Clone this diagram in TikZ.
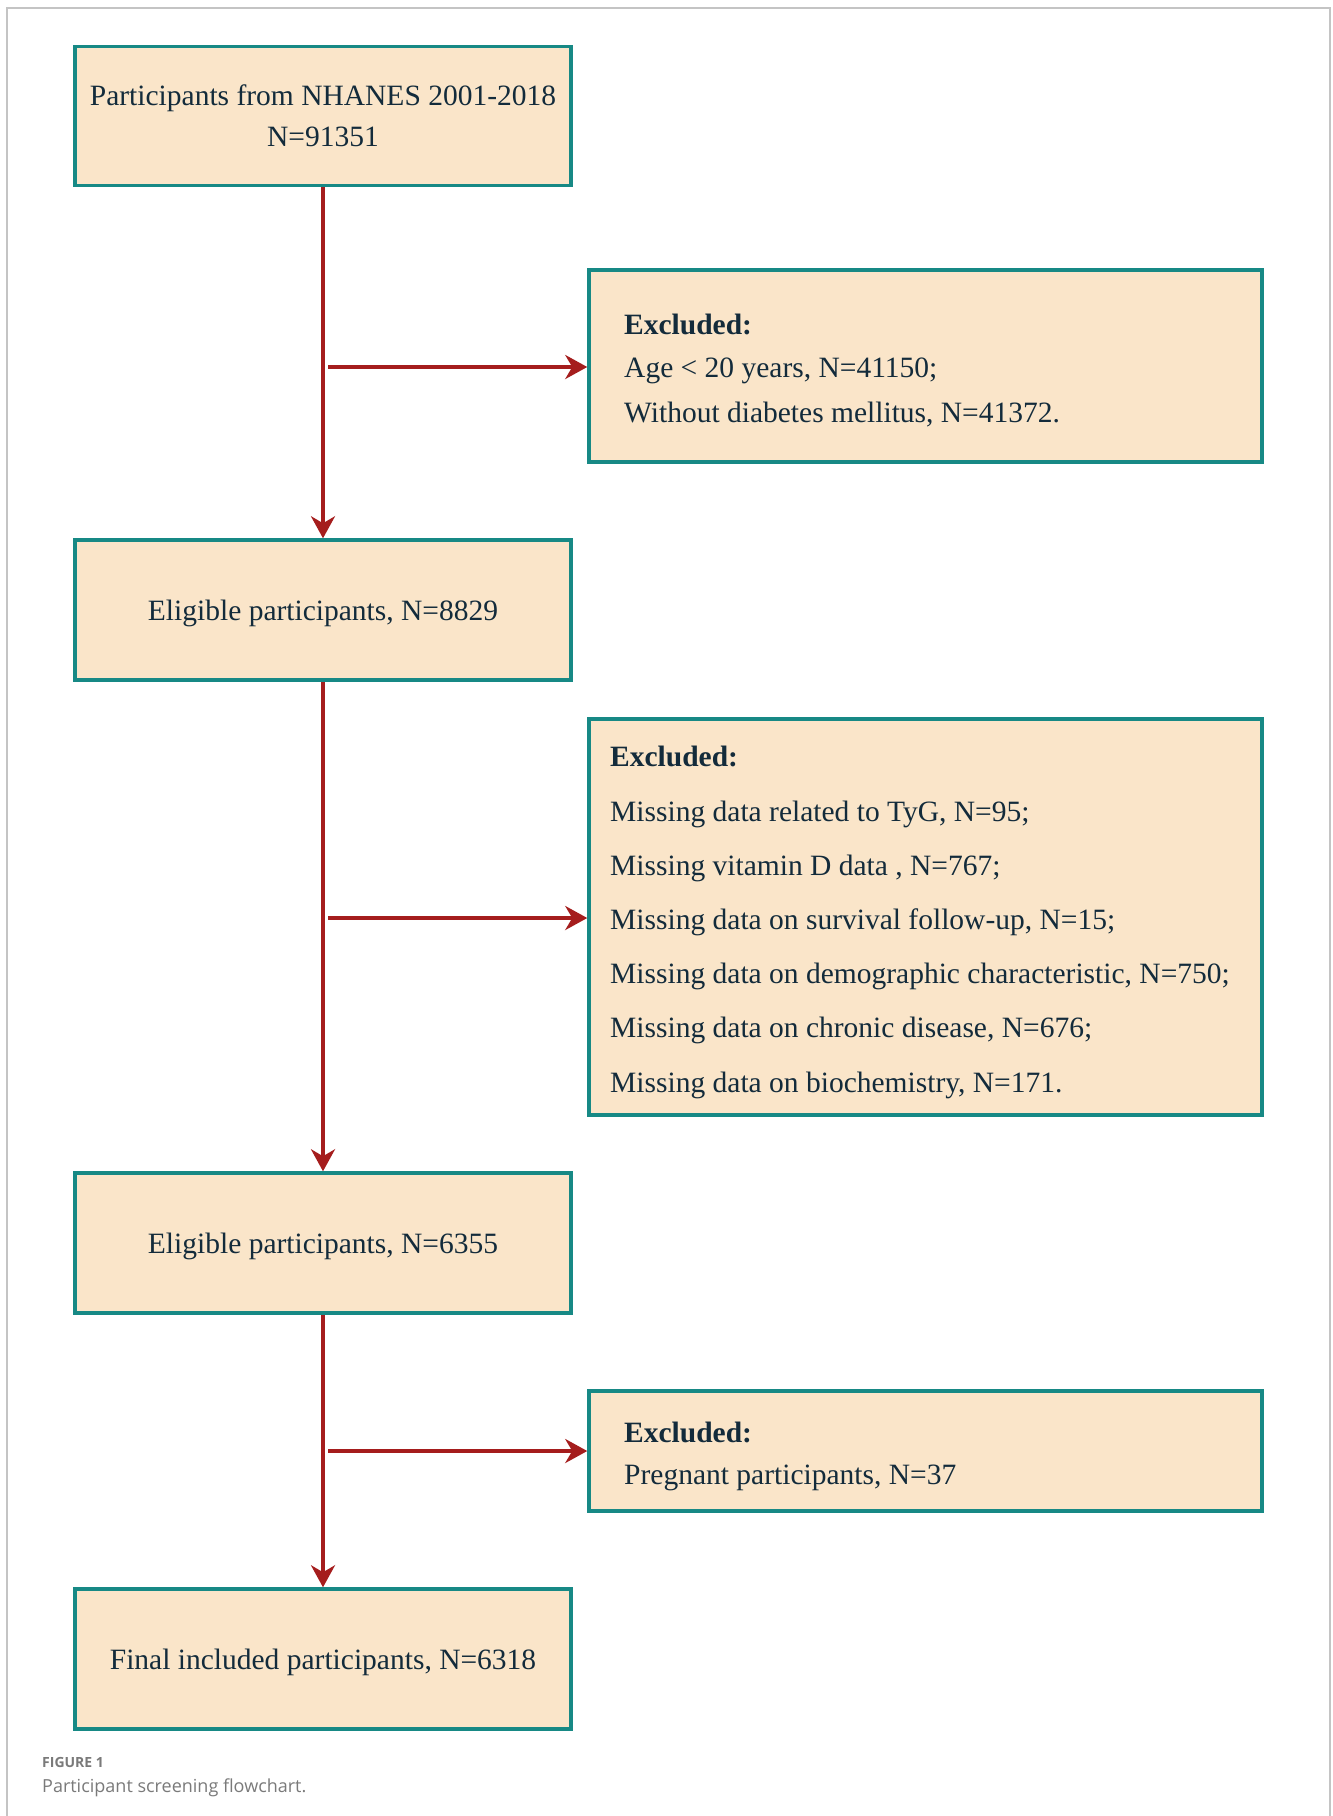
\documentclass[tikz,border=0pt]{standalone}
\usepackage{fontspec}
\setmainfont{Liberation Serif}
\newfontfamily\capfont{Open Sans}
\usetikzlibrary{arrows.meta}
\definecolor{boxfill}{HTML}{FAE5C9}
\definecolor{boxline}{HTML}{178985}
\definecolor{arrowred}{HTML}{A51D1D}
\definecolor{txt}{HTML}{132B3B}
\definecolor{framegray}{HTML}{C4C4C4}
\definecolor{capgray}{HTML}{7A7A7A}
\begin{document}
\begin{tikzpicture}[x=1pt,y=-1pt,
  box/.style={draw=boxline, line width=3.5pt, fill=boxfill, inner sep=0pt},
  mainbox/.style={box, minimum width=496pt, minimum height=139pt, font=\fontsize{29.5}{41}\selectfont, text=txt, align=center},
  onebox/.style={mainbox, minimum height=140pt, text height=20pt, text depth=0pt},
  exbox/.style={box, minimum width=673pt},
  ltxt/.style={font=\fontsize{29.5}{36}\selectfont, text=txt, anchor=base west, inner sep=0pt},
  arr/.style={draw=arrowred, line width=3.5pt, -{Stealth[length=22pt,width=24pt,inset=7pt]}},
]
\useasboundingbox (0,0) rectangle (1333,1816);
\fill[white] (0,0) rectangle (1333,1816);
\draw[framegray, line width=1.5pt] (7,1816) -- (7,8) -- (1330,8) -- (1330,1816);

% main boxes
\node[mainbox] (b1) at (323,116) {Participants from NHANES 2001-2018\\N=91351};
\node[onebox] (b2) at (323,610) {Eligible participants, N=8829};
\node[onebox] (b3) at (323,1243) {Eligible participants, N=6355};
\node[onebox] (b4) at (323,1659) {Final included participants, N=6318};

% exclusion boxes
\node[exbox, minimum height=192pt] (e1) at (925.5,366) {};
\node[exbox, minimum height=396pt] (e2) at (925.5,917) {};
\node[exbox, minimum height=120pt] (e3) at (925.5,1451) {};

% exclusion texts
\node[ltxt] (e1a) at (624,334) {\textbf{Excluded:}};
\node[ltxt] (e1b) at (624,377) {Age < 20 years, N=41150;};
\node[ltxt] (e1c) at (624,422) {Without diabetes mellitus, N=41372.};

\node[ltxt] (e2a) at (610,766) {\textbf{Excluded:}};
\node[ltxt] (e2b) at (610,821) {Missing data related to TyG, N=95;};
\node[ltxt] (e2c) at (610,875) {Missing vitamin D data , N=767;};
\node[ltxt] (e2d) at (610,929) {Missing data on survival follow-up, N=15;};
\node[ltxt] (e2e) at (610,983) {Missing data on demographic characteristic, N=750;};
\node[ltxt] (e2f) at (610,1037) {Missing data on chronic disease, N=676;};
\node[ltxt] (e2g) at (610,1092) {Missing data on biochemistry, N=171.};

\node[ltxt] (e3a) at (624,1442) {\textbf{Excluded:}};
\node[ltxt] (e3b) at (624,1484) {Pregnant participants, N=37};

% connectors
\coordinate (j1) at (328,367);
\coordinate (j2) at (328,918);
\coordinate (j3) at (328,1451);
\draw[arr] (b1) -- (b2);
\draw[arr] (b2) -- (b3);
\draw[arr] (b3) -- (b4);
\draw[arr] (j1) -- (j1 -| e1.west);
\draw[arr] (j2) -- (j2 -| e2.west);
\draw[arr] (j3) -- (j3 -| e3.west);

% caption
\node[anchor=base west, inner sep=0pt, text=capgray, font=\capfont\bfseries\fontsize{14}{16}\selectfont] (cap1) at (42,1767) {FIGURE 1};
\node[anchor=base west, inner sep=0pt, text=capgray, font=\capfont\fontsize{18}{21}\selectfont] (cap2) at (42,1792) {Participant screening flowchart.};
\end{tikzpicture}
\end{document}
